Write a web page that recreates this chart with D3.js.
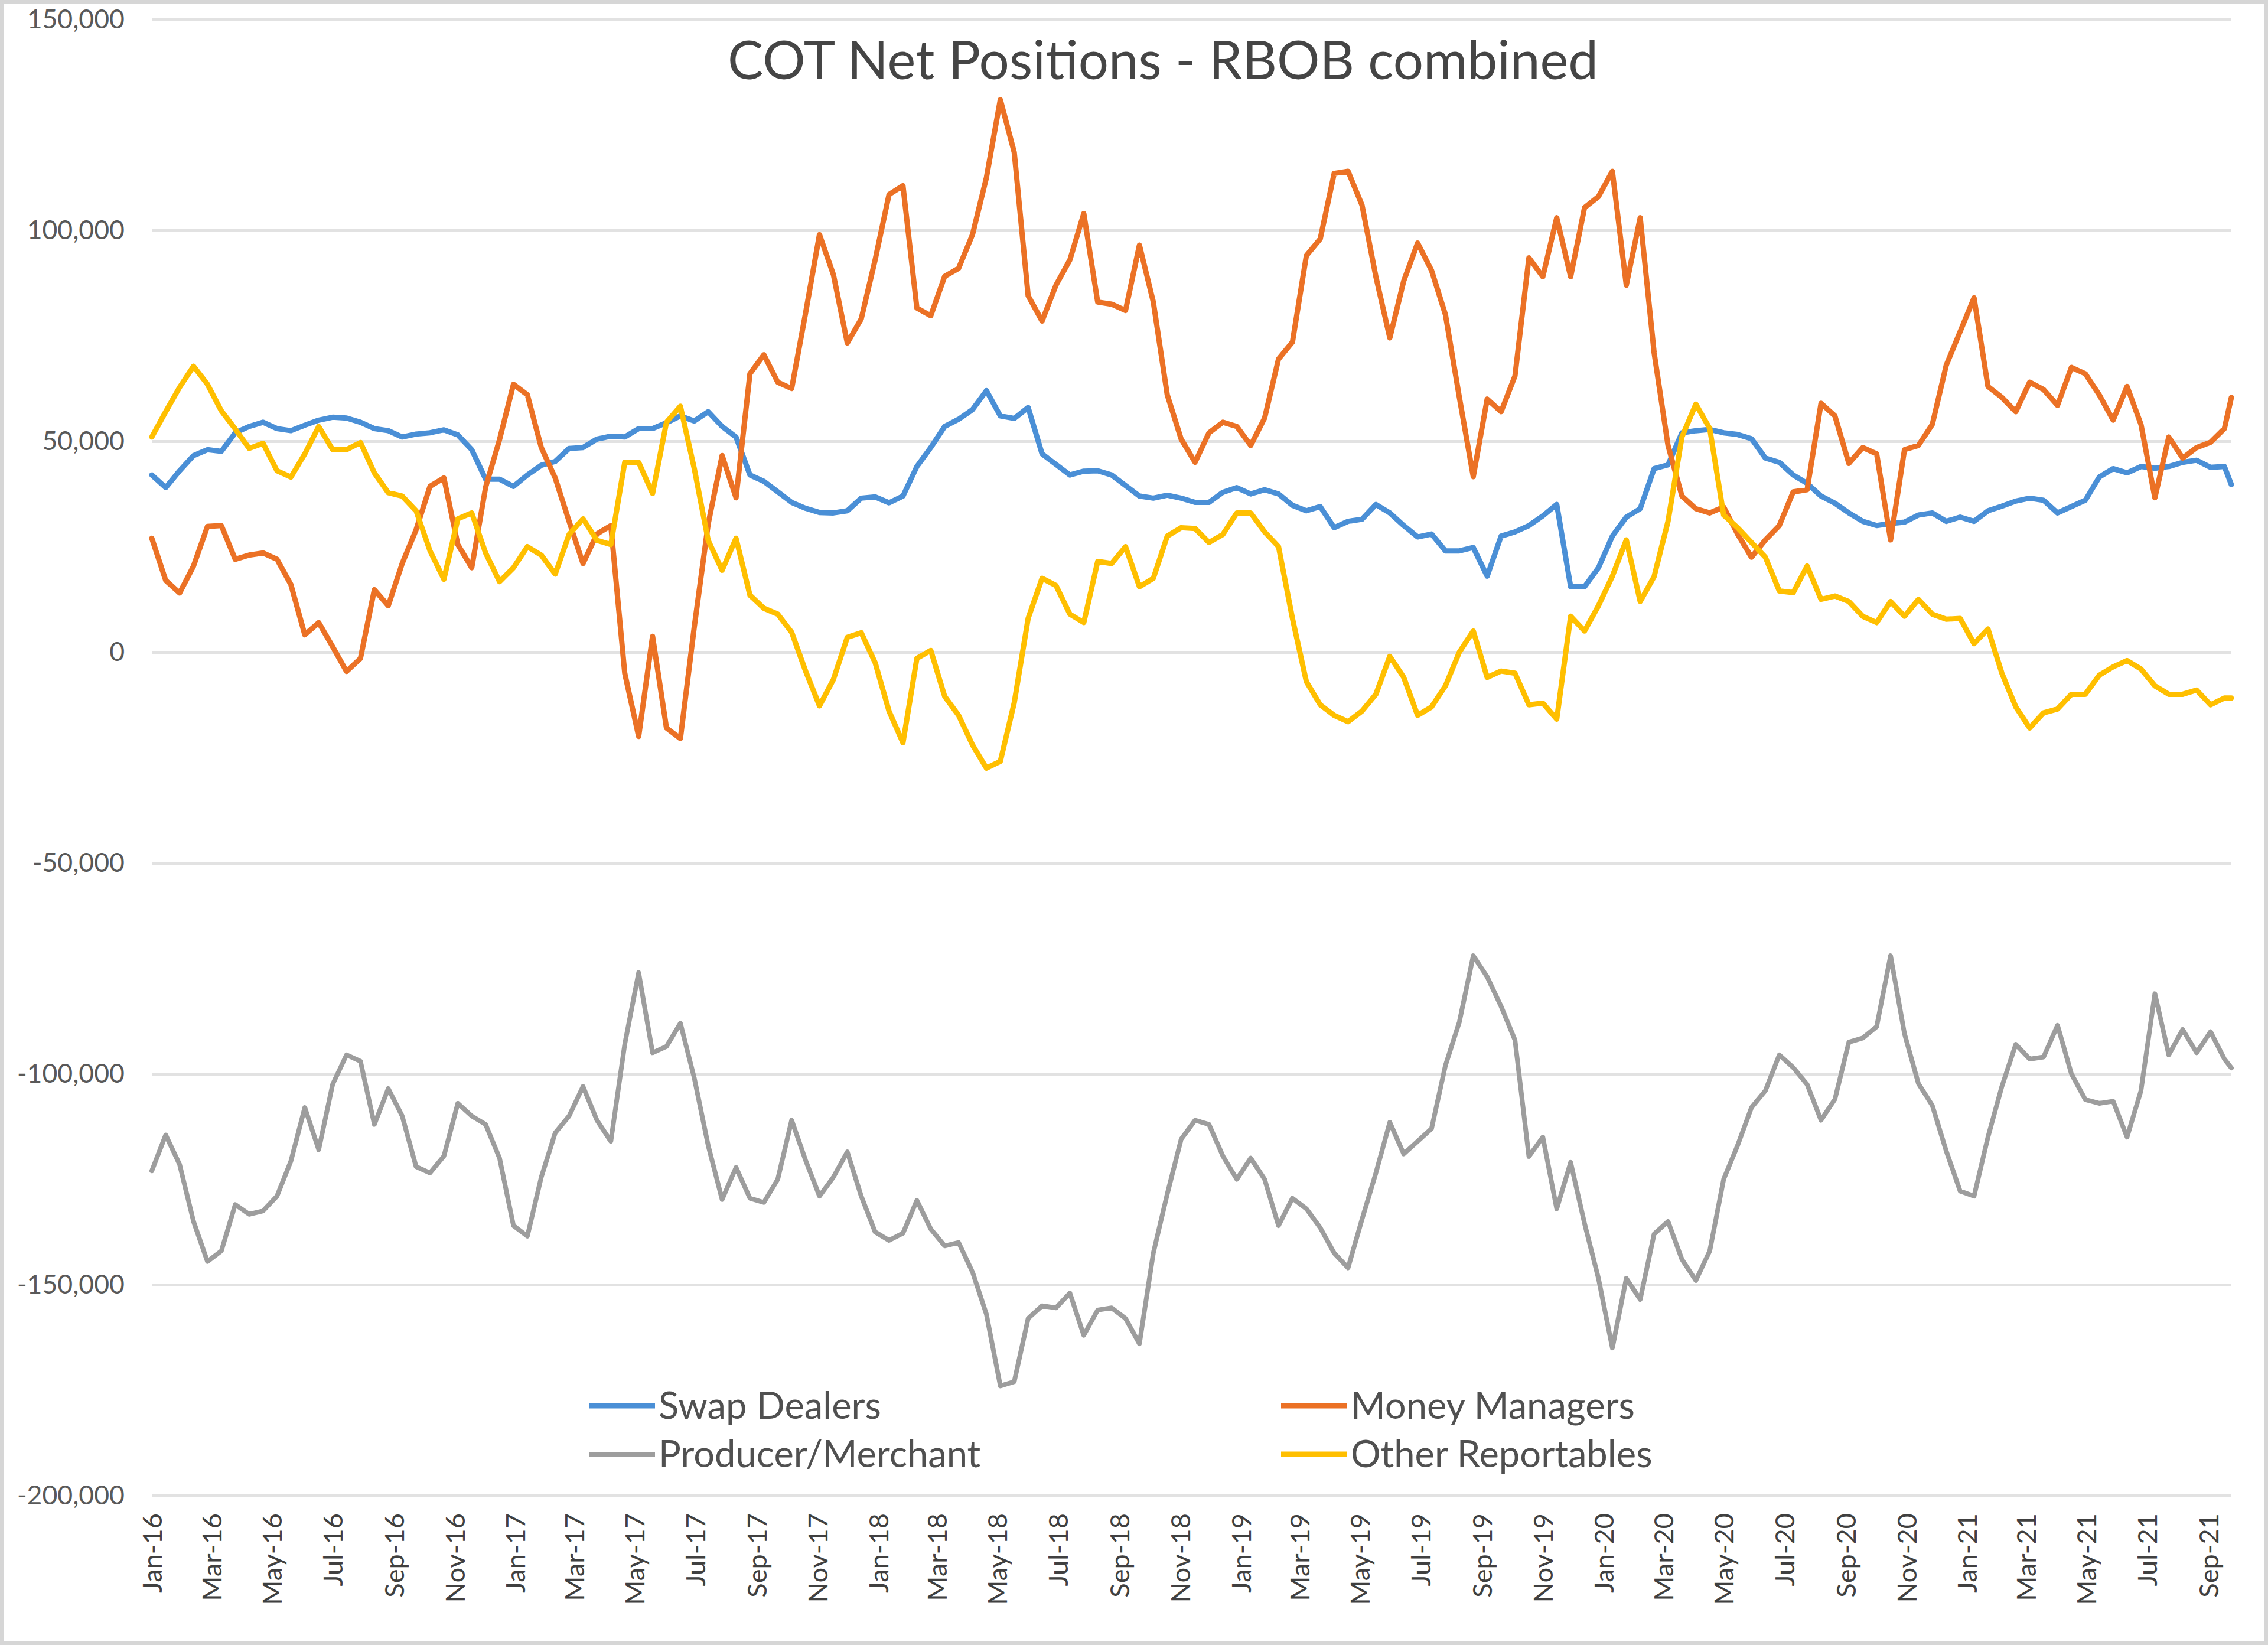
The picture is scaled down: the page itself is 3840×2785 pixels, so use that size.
<!DOCTYPE html>
<html><head><meta charset="utf-8">
<script src="https://cdn.jsdelivr.net/npm/d3@7"></script>
<style>html,body{margin:0;padding:0;background:#fff;} svg{display:block;}</style>
</head><body>
<svg id="chart" width="3840" height="2785"></svg>
<script>
// ---- DATA (weekly COT report dates, sampled bi-weekly; values in thousands of contracts) ----
const dates = [
"2016-01-05","2016-01-19","2016-02-02","2016-02-16","2016-03-01","2016-03-15","2016-03-29","2016-04-12","2016-04-26","2016-05-10",
"2016-05-24","2016-06-07","2016-06-21","2016-07-05","2016-07-19","2016-08-02","2016-08-16","2016-08-30","2016-09-13","2016-09-27",
"2016-10-11","2016-10-25","2016-11-08","2016-11-22","2016-12-06","2016-12-20","2017-01-03","2017-01-17","2017-01-31","2017-02-14",
"2017-02-28","2017-03-14","2017-03-28","2017-04-11","2017-04-25","2017-05-09","2017-05-23","2017-06-06","2017-06-20","2017-07-04",
"2017-07-18","2017-08-01","2017-08-15","2017-08-29","2017-09-12","2017-09-26","2017-10-10","2017-10-24","2017-11-07","2017-11-21",
"2017-12-05","2017-12-19","2018-01-02","2018-01-16","2018-01-30","2018-02-13","2018-02-27","2018-03-13","2018-03-27","2018-04-10",
"2018-04-24","2018-05-08","2018-05-22","2018-06-05","2018-06-19","2018-07-03","2018-07-17","2018-07-31","2018-08-14","2018-08-28",
"2018-09-11","2018-09-25","2018-10-09","2018-10-23","2018-11-06","2018-11-20","2018-12-04","2018-12-18","2019-01-01","2019-01-15",
"2019-01-29","2019-02-12","2019-02-26","2019-03-12","2019-03-26","2019-04-09","2019-04-23","2019-05-07","2019-05-21","2019-06-04",
"2019-06-18","2019-07-02","2019-07-16","2019-07-30","2019-08-13","2019-08-27","2019-09-10","2019-09-24","2019-10-08","2019-10-22",
"2019-11-05","2019-11-19","2019-12-03","2019-12-17","2019-12-31","2020-01-14","2020-01-28","2020-02-11","2020-02-25","2020-03-10",
"2020-03-24","2020-04-07","2020-04-21","2020-05-05","2020-05-19","2020-06-02","2020-06-16","2020-06-30","2020-07-14","2020-07-28",
"2020-08-11","2020-08-25","2020-09-08","2020-09-22","2020-10-06","2020-10-20","2020-11-03","2020-11-17","2020-12-01","2020-12-15",
"2020-12-29","2021-01-12","2021-01-26","2021-02-09","2021-02-23","2021-03-09","2021-03-23","2021-04-06","2021-04-20","2021-05-04",
"2021-05-18","2021-06-01","2021-06-15","2021-06-29","2021-07-13","2021-07-27","2021-08-10","2021-08-24","2021-09-07","2021-09-21",
"2021-09-28"];

const swapDealers = [
42,39,43,46.6,48,47.6,52,53.5,54.5,53,
52.5,53.8,55,55.7,55.5,54.5,53,52.5,51,51.7,
52,52.7,51.5,48,41,41,39.3,42,44.3,45.2,
48.3,48.5,50.5,51.2,51,53,53,54.4,56,54.8,
57,53.5,51,42,40.5,38,35.5,34.1,33.1,33,
33.5,36.5,36.8,35.4,37,44,48.5,53.5,55.2,57.5,
62,56,55.4,58,47,44.5,42,42.9,43,42,
39.5,37,36.5,37.2,36.5,35.5,35.5,37.9,39,37.5,
38.5,37.5,34.8,33.5,34.5,29.5,31,31.5,35,33,
30,27.3,28,24,24,24.8,18,27.5,28.5,30,
32.3,35,15.5,15.5,20,27.5,32,34,43.5,44.4,
52,52.5,52.8,52,51.6,50.6,46,45,42,40,
37,35.3,33,31,30,30.5,30.8,32.5,33,31,
32,31,33.5,34.6,35.8,36.5,36,33,34.5,36,
41.5,43.5,42.5,44,43.6,44,45,45.5,43.8,44,
39.7];

const moneyManagers = [
27,17,14,20.4,29.8,30,22,23,23.5,22,
16,4.1,7,1.3,-4.6,-1.5,14.8,11,21,29,
39.3,41.3,25.5,20,39.1,50.4,63.5,61,48.5,41.3,
31,21,28,30,-5,-20,3.75,-18,-20.5,6,
30.4,46.6,36.6,66,70.5,64,62.5,80.4,99,89.5,
73.3,79,93,108.5,110.6,81.6,79.75,89.1,91,99,
112.5,131,118.5,84.5,78.5,87,93,104,83,82.5,
81,96.5,83,61,50.5,45,52,54.5,53.5,49,
55.5,69.5,73.5,94,98,113.5,114,106,89,74.5,
88,97,90.5,80,60.4,41.6,60,57,65.5,93.5,
89,103,89,105.4,108,114,87,103,71,49,
37,34,33,34.4,28,22.5,26.6,30,38,38.5,
59,56,44.75,48.5,47,26.6,48,49,54,68,
76,84,63,60.4,57,64,62.25,58.5,67.5,66,
61,55,63,54,36.6,51,46,48.5,49.75,53,
60.4];

const producerMerchant = [
-123,-114.5,-121.5,-135,-144.5,-142,-131,-133.3,-132.5,-129,
-120.7,-108,-118,-102.5,-95.5,-97,-112,-103.5,-110,-122,
-123.5,-119.5,-107,-110,-112,-120,-136,-138.5,-124.5,-114,
-110,-103,-111,-116,-93,-76,-95,-93.5,-88,-101,
-117,-129.8,-122.2,-129.5,-130.5,-125,-111,-120.5,-129,-124.5,
-118.5,-129,-137.5,-139.5,-137.8,-130,-136.8,-140.8,-140,-147,
-157,-174,-173,-158,-155,-155.5,-152,-162,-156,-155.5,
-158,-164,-142.5,-128.5,-115.5,-111,-112,-119.5,-125,-120,
-125,-136,-129.5,-132,-136.5,-142.5,-146,-134.5,-123.5,-111.5,
-119,-116,-113,-98,-87.7,-72,-77,-84,-92,-119.6,
-115,-132,-121,-135.5,-148.5,-165,-148.5,-153.5,-138,-135,
-144,-149,-142,-125,-117,-108,-104,-95.5,-98.5,-102.5,
-111,-106,-92.5,-91.5,-88.8,-72,-90.5,-102.3,-107.5,-118.3,
-127.8,-129,-115,-103,-93,-96.5,-96,-88.5,-100,-106.1,
-107,-106.5,-115,-104,-81,-95.5,-89.5,-95,-90,-96.5,
-98.6];

const otherReportables = [
51,57,62.8,67.8,63.5,57.2,52.9,48.3,49.5,43,
41.5,47,53.5,48,48,49.7,42.5,37.8,37,33.5,
24,17.25,31.6,33,23.5,16.7,20,25,23,18.5,
27.9,31.6,26.5,25.5,45,45,37.6,54.5,58.3,43.5,
26.5,19.4,27,13.5,10.4,9,4.7,-4.5,-12.75,-6.5,
3.5,4.6,-2.5,-14,-21.5,-1.5,0.4,-10.5,-15,-22,
-27.5,-25.9,-12,8,17.5,15.8,9,7,21.5,21,
25,15.5,17.5,27.5,29.5,29.3,26,27.9,33,33,
28.5,25,8,-7,-12.5,-15,-16.5,-14,-10,-1,
-6,-15,-13,-8,0,5,-6,-4.5,-5,-12.5,
-12.1,-15.9,8.5,5,11,18,26.6,12,17.9,31,
51,58.8,53,32.5,29.5,26,22.5,14.5,14.1,20.4,
12.5,13.3,12,8.5,7,12,8.5,12.5,9,7.8,
8,2,5.5,-5,-13,-18,-14.4,-13.5,-10,-10,
-5.5,-3.5,-2,-4,-8,-10,-10,-9,-12.5,-10.9,
-10.9];

const seriesNames = ["Swap Dealers","Money Managers","Producer/Merchant","Other Reportables"];
const yTickValues = [150000,100000,50000,0,-50000,-100000,-150000,-200000];
const xTickLabels = ["Jan-16","Mar-16","May-16","Jul-16","Sep-16","Nov-16",
"Jan-17","Mar-17","May-17","Jul-17","Sep-17","Nov-17",
"Jan-18","Mar-18","May-18","Jul-18","Sep-18","Nov-18",
"Jan-19","Mar-19","May-19","Jul-19","Sep-19","Nov-19",
"Jan-20","Mar-20","May-20","Jul-20","Sep-20","Nov-20",
"Jan-21","Mar-21","May-21","Jul-21","Sep-21"];
const titleText = "COT Net Positions - RBOB combined";

// ---- LAYOUT / STYLE ----
const W = 3840, H = 2785;
const plot = {left: 257, right: 3778, top: 33, bottom: 2532};
const FONT = "Lato, 'Open Sans', 'DejaVu Sans', sans-serif";
const colors = {
  "Swap Dealers": "#4a8fd6",
  "Money Managers": "#eb7125",
  "Producer/Merchant": "#9d9d9d",
  "Other Reportables": "#ffbf00"
};
const widths = {
  "Swap Dealers": 9,
  "Money Managers": 9,
  "Producer/Merchant": 8,
  "Other Reportables": 9
};

const svg = d3.select("#chart");
svg.append("rect").attr("x",0).attr("y",0).attr("width",W).attr("height",H).attr("fill","#fff");
svg.append("rect").attr("x",3).attr("y",3).attr("width",W-6).attr("height",H-6)
  .attr("fill","none").attr("stroke","#d6d6d6").attr("stroke-width",6);

function fitSize(text, target, weight) {
  const t = svg.append("text").attr("font-family",FONT).attr("font-size",100)
    .attr("font-weight", weight || 400).text(text);
  const w = t.node().getComputedTextLength();
  t.remove();
  return 100 * target / w;
}

const parse = d3.timeParse("%Y-%m-%d");
const dateObjs = dates.map(parse);
const x = d3.scaleTime().domain([dateObjs[0], dateObjs[dateObjs.length-1]]).range([plot.left, plot.right]);
const y = d3.scaleLinear().domain([-200000, 150000]).range([plot.bottom, plot.top]);

const locale = d3.formatLocale({decimal: ".", thousands: ",", grouping: [3], currency: ["$",""], minus: "-"});
const fmt = locale.format(",");

// y axis + gridlines
const yFont = fitSize("-200,000", 182);
const yAxis = d3.axisLeft(y).tickValues(yTickValues)
  .tickSize(-(plot.right - plot.left)).tickPadding(46).tickFormat(fmt);
const gy = svg.append("g").attr("transform", `translate(${plot.left},0)`).call(yAxis);
gy.select(".domain").remove();
gy.selectAll(".tick line").attr("stroke","#e2e2e2").attr("stroke-width",5);
gy.selectAll(".tick text").attr("font-family",FONT).attr("font-size",yFont)
  .attr("fill","#595959");

// x axis
const parseLbl = d3.timeParse("%b-%y");
const xTickDates = xTickLabels.map(l => { const d = parseLbl(l); d.setDate(5); return d; });
const xFont = fitSize("Jan-16", 135);
const xAxis = d3.axisBottom(x).tickValues(xTickDates).tickSize(0)
  .tickFormat((d,i) => xTickLabels[i]);
const gx = svg.append("g").attr("transform", `translate(0,${plot.bottom})`).call(xAxis);
gx.select(".domain").remove();
gx.selectAll(".tick text")
  .attr("font-family",FONT).attr("font-size",xFont).attr("fill","#404040")
  .attr("transform","rotate(-90)")
  .attr("text-anchor","end")
  .attr("x",-30).attr("y",0).attr("dy","0.36em");

// series
const seriesData = {
  "Swap Dealers": swapDealers,
  "Money Managers": moneyManagers,
  "Producer/Merchant": producerMerchant,
  "Other Reportables": otherReportables
};
const drawOrder = ["Swap Dealers","Producer/Merchant","Money Managers","Other Reportables"];
const line = d3.line()
  .x((d,i) => x(dateObjs[i]))
  .y(d => y(d * 1000));
const gLines = svg.append("g");
drawOrder.forEach(name => {
  gLines.append("path").datum(seriesData[name])
    .attr("d", line).attr("fill","none")
    .attr("stroke", colors[name]).attr("stroke-width", widths[name])
    .attr("stroke-linejoin","round").attr("stroke-linecap","round");
});

// title
const tSize = fitSize(titleText, 1474);
svg.append("text").attr("x",1969).attr("y",134).attr("text-anchor","middle")
  .attr("font-family",FONT).attr("font-size",tSize).attr("fill","#454545").text(titleText);

// legend
const legSize = fitSize("Money Managers", 481);
const legPos = [
  {name: seriesNames[0], x: 997, y: 2380},
  {name: seriesNames[1], x: 2169, y: 2380},
  {name: seriesNames[2], x: 997, y: 2462},
  {name: seriesNames[3], x: 2169, y: 2462}
];
const gLeg = svg.append("g");
legPos.forEach(p => {
  gLeg.append("line").attr("x1",p.x).attr("x2",p.x+112).attr("y1",p.y).attr("y2",p.y)
    .attr("stroke",colors[p.name]).attr("stroke-width",widths[p.name]);
  gLeg.append("text").attr("x",p.x+118).attr("y",p.y).attr("dy","0.35em")
    .attr("font-family",FONT).attr("font-size",legSize).attr("fill","#505050").text(p.name);
});
</script>
</body></html>
